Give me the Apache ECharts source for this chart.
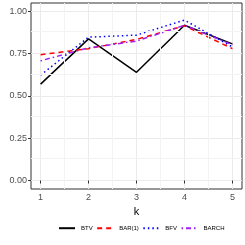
<!DOCTYPE html>
<html><head><meta charset="utf-8">
<script src="https://cdn.jsdelivr.net/npm/echarts@6/dist/echarts.min.js"></script>
<style>html,body{margin:0;padding:0;background:#fff}#c{width:245px;height:245px}</style>
</head><body><div id="c"></div>
<script>
const k = [1, 2, 3, 4, 5];
const btv = [0.570, 0.838, 0.640, 0.918, 0.808];
const bar1 = [0.744, 0.780, 0.835, 0.915, 0.780];
const bfv = [0.623, 0.848, 0.860, 0.949, 0.790];
const barch = [0.708, 0.785, 0.825, 0.918, 0.803];
const xTicks = [1, 2, 3, 4, 5];
const yTicks = [0, 0.25, 0.5, 0.75, 1];
const xMinor = [1.5, 2.5, 3.5, 4.5];
const yMinor = [0.125, 0.375, 0.625, 0.875];

const pair = (arr) => k.map((v, i) => [v, arr[i]]);
const font = 'Liberation Sans, Arial, sans-serif';
const mk = (name, data, color, type) => ({
  name, type: 'line', data: pair(data), symbol: 'none',
  lineStyle: { color, width: 1.5, type, cap: 'butt' }, itemStyle: { color },
  emphasis: { disabled: true }
});
const s0 = mk('BTV', btv, '#000000', 'solid');
s0.markLine = {
  silent: true, symbol: 'none', label: { show: false }, animation: false,
  lineStyle: { color: '#f3f3f3', width: 1, type: 'solid' },
  data: xMinor.map(v => ({ xAxis: v })).concat(yMinor.map(v => ({ yAxis: v })))
};
const chart = echarts.init(document.getElementById('c'), null, { renderer: 'canvas' });
chart.setOption({
  animation: false,
  backgroundColor: '#fff',
  grid: { left: 31, top: 3, width: 211, height: 186, show: true, borderColor: '#333', borderWidth: 1, backgroundColor: 'transparent' },
  xAxis: {
    type: 'value', min: 0.8, max: 5.2,
    name: 'k', nameLocation: 'middle', nameGap: 11,
    nameTextStyle: { color: '#000', fontSize: 11, fontFamily: font },
    axisLine: { show: false },
    axisTick: { show: true, length: 3, customValues: xTicks, lineStyle: { color: '#333' } },
    axisLabel: { customValues: xTicks, color: '#4d4d4d', fontSize: 9, fontFamily: font, margin: 4 },
    splitLine: { show: true, lineStyle: { color: '#ebebeb', width: 1 } }
  },
  yAxis: {
    type: 'value', min: -0.05, max: 1.05,
    axisLine: { show: false },
    axisTick: { show: true, length: 3, customValues: yTicks, lineStyle: { color: '#333' } },
    axisLabel: { customValues: yTicks, color: '#4d4d4d', fontSize: 9, fontFamily: font, margin: 4,
      formatter: v => v.toFixed(2) },
    splitLine: { show: true, lineStyle: { color: '#ebebeb', width: 1 } }
  },
  legend: {
    top: 220, left: 53, width: 190, itemWidth: 16, itemHeight: 8, itemGap: 3.5,
    itemStyle: { opacity: 0 },
    lineStyle: { width: 2 },
    textStyle: { fontSize: 6, color: '#000', fontFamily: font, padding: [0, 0, 0, 1] },
    data: ['BTV', 'BAR(1)', 'BFV', 'BARCH']
  },
  series: [
    s0,
    mk('BAR(1)', bar1, '#ff0000', [5, 4]),
    mk('BFV', bfv, '#0000ff', [1.5, 3]),
    mk('BARCH', barch, '#a020f0', [1.5, 3, 5, 3])
  ]
});
</script></body></html>
